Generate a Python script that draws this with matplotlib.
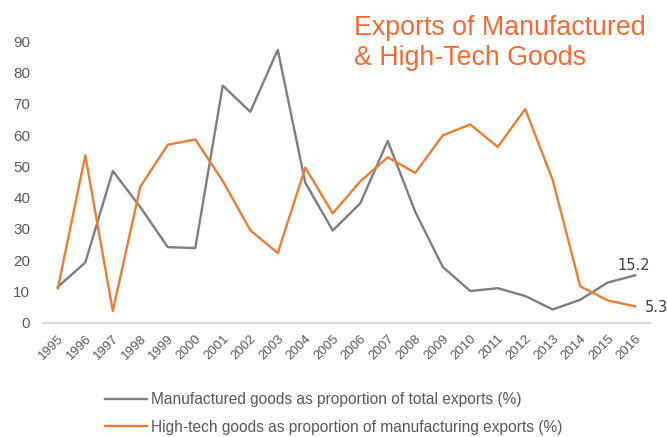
import matplotlib.pyplot as plt

years = list(range(1995, 2017))

manufactured = [11.5, 19.3, 48.5, 37.0, 24.2, 23.9, 75.8, 67.4, 87.2, 44.8,
                29.5, 38.2, 58.1, 35.5, 17.9, 10.2, 11.1, 8.6, 4.3, 7.4,
                12.9, 15.2]
hightech = [11.0, 53.5, 3.8, 43.5, 56.9, 58.6, 45.3, 29.6, 22.3, 49.6,
            35.0, 45.2, 52.9, 47.9, 59.9, 63.4, 56.2, 68.3, 45.6, 11.7,
            7.2, 5.3]

label_m = "Manufactured goods as proportion of total exports (%)"
label_h = "High-tech goods as proportion of manufacturing exports (%)"

plt.rcParams["font.family"] = ["Liberation Sans", "DejaVu Sans"]

gray = "#7f7f7f"
orange = "#ed7d31"
text_gray = "#595959"

fig = plt.figure(figsize=(6.67, 4.37), dpi=100)
ax = fig.add_axes([0.064, 0.261, 0.911, 0.645])

ax.plot(years, manufactured, color=gray, linewidth=1.7, label=label_m)
ax.plot(years, hightech, color=orange, linewidth=1.7, label=label_h)

ax.set_xlim(1994.45, 2016.55)
ax.set_ylim(0, 90)
ax.set_xticks(years)
ax.set_xticklabels([str(y) for y in years], rotation=45, ha="right",
                   rotation_mode="anchor", fontsize=9.5, color=text_gray)
ax.set_yticks(range(0, 100, 10))
ax.tick_params(axis="y", labelsize=11, colors=text_gray, length=0, pad=9)
ax.tick_params(axis="x", length=0, pad=7)

for s in ["top", "right", "left"]:
    ax.spines[s].set_visible(False)
ax.spines["bottom"].set_color("#d9d9d9")
ax.spines["bottom"].set_linewidth(1.5)

ax.annotate(f"{manufactured[-1]:.1f}", (years[-1], manufactured[-1]),
            xytext=(-13, 4), textcoords="offset points", fontsize=10.5,
            color="#404040", family=["DejaVu Sans"])
ax.annotate(f"{hightech[-1]:.1f}", (years[-1], hightech[-1]),
            xytext=(7, -4), textcoords="offset points", fontsize=10.5,
            color="#404040", family=["DejaVu Sans"], annotation_clip=False)

title_color = "#f26b35"
fig.text(0.531, 0.920, "Exports of Manufactured", fontsize=19.3,
         color=title_color, va="baseline")
fig.text(0.531, 0.851, "& High-Tech Goods", fontsize=19.3,
         color=title_color, va="baseline")

leg = fig.legend(loc="upper left", bbox_to_anchor=(0.157, 0.102),
                 frameon=False, fontsize=11.2, handlelength=2.75,
                 handletextpad=0.25, labelspacing=0.8, borderpad=0,
                 borderaxespad=0)
for t in leg.get_texts():
    t.set_color(text_gray)

fig.savefig("out.png", dpi=100)
